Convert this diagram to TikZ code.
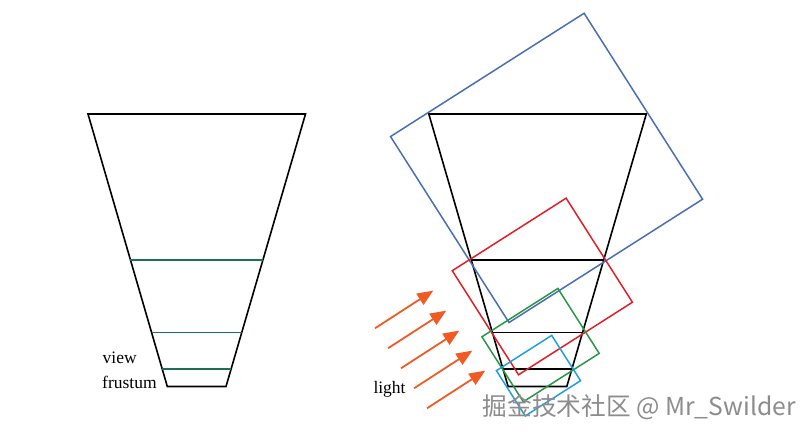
\documentclass[tikz,border=0pt]{standalone}
\usepackage{fontspec}
\setmainfont{Liberation Serif}
\newfontfamily\cjkfont{Noto Sans CJK SC}
\usepackage{tikz}
\usetikzlibrary{arrows.meta,calc}

\definecolor{slicegreen}{RGB}{30,110,85}
\definecolor{boxblue}{RGB}{74,111,176}
\definecolor{boxred}{RGB}{226,30,40}
\definecolor{boxgreen}{RGB}{40,150,70}
\definecolor{boxcyan}{RGB}{30,160,220}
\definecolor{rayorange}{RGB}{240,90,35}

\tikzset{
  frustum/.style={line width=1.6pt,line join=miter},
  split/.style={line width=1.8pt},
  lightbox/.style={line width=1.5pt},
  lightray/.style={rayorange,line width=1.8pt,-{Triangle[length=16pt,width=13pt]}},
  textlabel/.style={font=\fontsize{17.5}{25}\selectfont,inner sep=0pt}
}

\begin{document}
\begin{tikzpicture}[x=1pt,y=-1pt]
    \useasboundingbox (0,0) rectangle (811,436);

    % left: frustum with split planes
    \coordinate (tl) at (88,114);
    \coordinate (tr) at (305.5,114);
    \coordinate (br) at (226,386.5);
    \coordinate (bl) at (167.3,386.5);
    \draw[frustum] (tl) -- (tr) -- (br) -- (bl) -- cycle;
    \foreach \t in {.5358,.8018,.9358}
        \draw[split,slicegreen] ($(tl)!\t!(bl)$) -- ($(tr)!\t!(br)$);
    \node[textlabel,anchor=base west] (view) at (102.5,363.3) {view};
    \node[textlabel,anchor=base west] (frust) at (102,388.3) {frustum};

    % right: same frustum, boxes in light space
    \begin{scope}[xshift=340.8pt]
        \coordinate (rtl) at (88,114);
        \coordinate (rtr) at (305.5,114);
        \coordinate (rbr) at (226,386.5);
        \coordinate (rbl) at (167.3,386.5);
        \draw[frustum] (rtl) -- (rtr) -- (rbr) -- (rbl) -- cycle;
        \foreach \t in {.5358,.8018,.9358}
            \draw[split,black] ($(rtl)!\t!(rbl)$) -- ($(rtr)!\t!(rbr)$);
    \end{scope}

    \begin{scope}[x={(0.8434pt,0.5373pt)},y={(0.5373pt,-0.8434pt)}]
        \foreach \pa/\qa/\pb/\qb/\col in {256/325/485.5/545.5/boxblue,
                236/471.3/371/594.7/boxred,
                225.5/543/315.5/620/boxgreen,
                219.5/579.3/285.1/633/boxcyan}
            \draw[lightbox,\col] (\pa,\qa) -- (\pb,\qa) -- (\pb,\qb) -- (\pa,\qb) -- cycle;
    \end{scope}

    % light direction
    \foreach \i in {0,...,4}
        \draw[lightray] (375+13*\i,328.3+20*\i) -- ++(58.3,-37.7);
    \node[textlabel,anchor=base west] (light) at (373.3,393.3) {light};

    \node[anchor=base west,inner sep=0pt,black!45,font=\cjkfont\fontsize{24.7}{25}\selectfont] (mark) at (482.5,415) {掘金技术社区 @ Mr\_Swilder};
\end{tikzpicture}
\end{document}
